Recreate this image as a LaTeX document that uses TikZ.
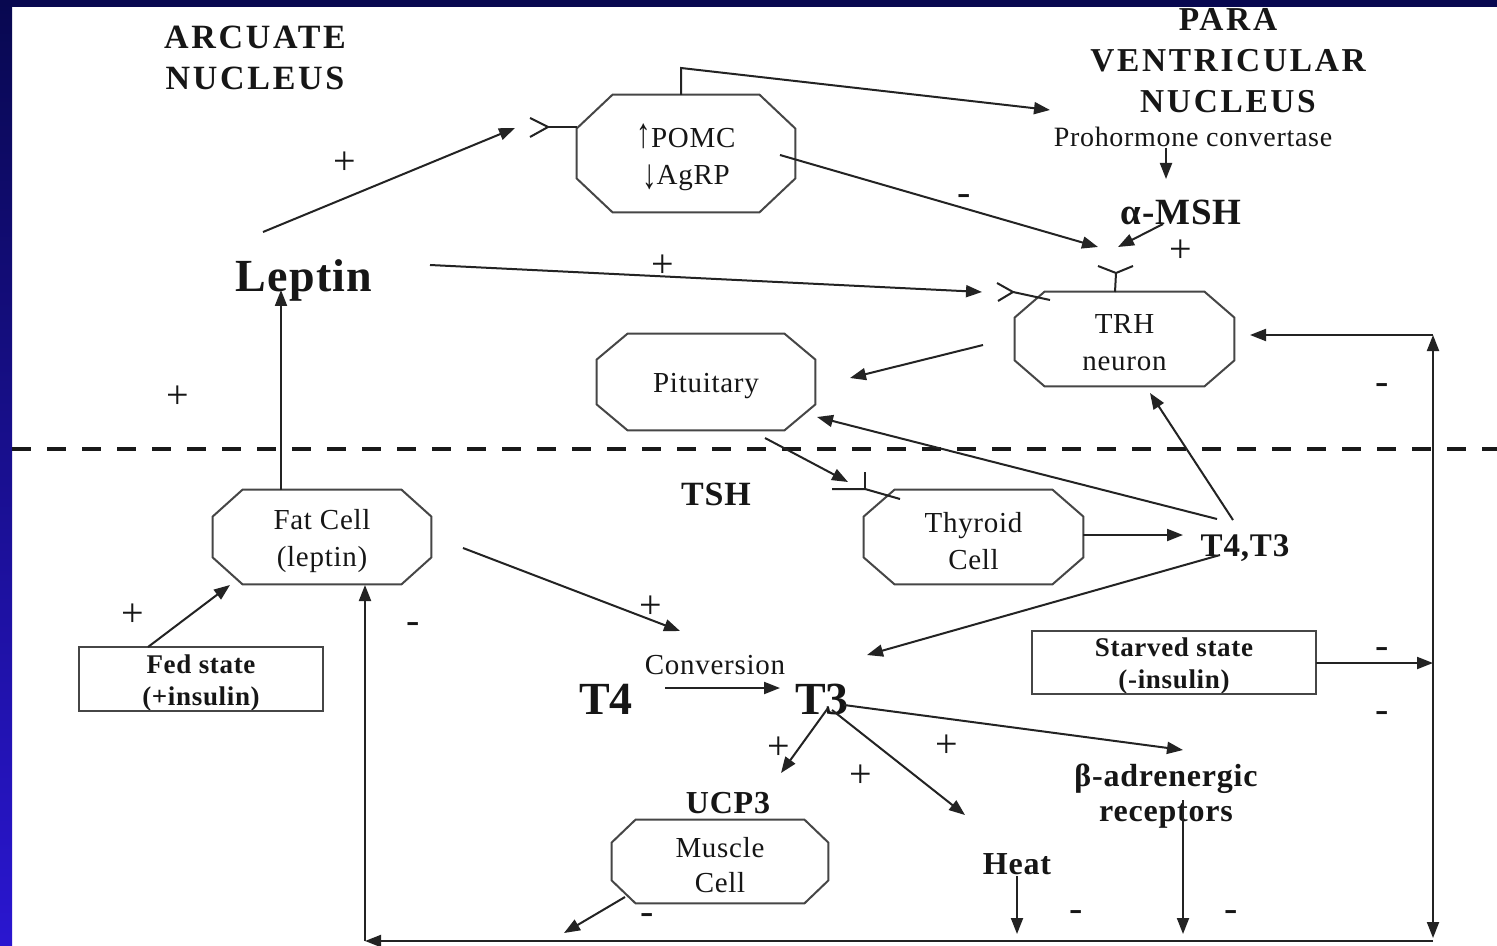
\documentclass[tikz,border=0pt]{standalone}
\usepackage{fontspec}
\usepackage{graphicx}
\setmainfont{Liberation Serif}
\newfontfamily\tfam{Liberation Serif}[LetterSpace=2.5]
\newfontfamily\hfam{Liberation Serif}[LetterSpace=8]
\usetikzlibrary{arrows.meta,calc}
\definecolor{navy}{RGB}{8,8,80}
\definecolor{vio}{RGB}{42,22,208}
\definecolor{midb}{RGB}{18,16,140}
\definecolor{ln}{RGB}{35,35,35}
\definecolor{bx}{RGB}{70,70,70}
\definecolor{txt}{RGB}{22,22,22}
% octagon drawn round a node, raised 2pt above the node so text sits lower
\newcommand\octo[3]{%
  \draw[boxline] ($(#1.north west)+(#2,2pt)$) -- ($(#1.north east)+(-#2,2pt)$) -- ($(#1.north east)+(0pt,2pt)-(0pt,#3)$) -- ($(#1.south east)+(0pt,2pt)+(0pt,#3)$) -- ($(#1.south east)+(-#2,2pt)$) -- ($(#1.south west)+(#2,2pt)$) -- ($(#1.south west)+(0pt,2pt)+(0pt,#3)$) -- ($(#1.north west)+(0pt,2pt)-(0pt,#3)$) -- cycle;}
\newcommand\rbox[1]{%
  \draw[boxline] ($(#1.north west)+(0pt,2pt)$) rectangle ($(#1.south east)+(0pt,2pt)$);}
\newcommand\uparr{\scalebox{1}[1.45]{↑}}
\newcommand\dnarr{\raisebox{-0.25ex}{\scalebox{1}[1.45]{↓}}}
\begin{document}
\begin{tikzpicture}[x=0.5pt,y=-0.5pt,
  conn/.style={draw=ln, line width=1pt},
  arr/.style={conn, -{Triangle[length=8pt,width=6pt]}},
  boxline/.style={draw=bx, line width=1pt},
  lbl/.style={inner sep=0pt, text=txt, align=center},
  reg/.style={lbl, font=\tfam\fontsize{14.5}{18.5}\selectfont},
  bld/.style={lbl, font=\tfam\bfseries\fontsize{16}{17.5}\selectfont},
  sbld/.style={lbl, font=\tfam\bfseries\fontsize{13.5}{16}\selectfont},
  head/.style={lbl, font=\hfam\bfseries\fontsize{17}{20.5}\selectfont},
  big/.style={lbl, font=\bfseries\fontsize{23}{24}\selectfont},
  sgn/.style={lbl, font=\fontsize{20}{20}\selectfont},
  octnode/.style 2 args={reg, minimum width=#1, minimum height=#2},
]
\useasboundingbox (0,0) rectangle (1497,946);
% background
\fill[white] (0,0) rectangle (1497,946);
\shade[top color=navy, middle color=midb, bottom color=vio] (0,0) rectangle (12,946);

% dashed separator
\coordinate (dl) at (12,449);
\coordinate (dr) at (1497,449);
\draw[line width=2pt, dash pattern=on 9.5pt off 8pt, draw=black!90] (dl) -- (dr);

% headings and labels
\node[head] (arc) at (255,57.5) {ARCUATE\\NUCLEUS};
\node[head, font=\hfam\bfseries\fontsize{16.7}{20.5}\selectfont] (pvn) at (1228,61) {PARA\\VENTRICULAR\\NUCLEUS};
\node[reg, font=\tfam\fontsize{14}{16}\selectfont] (proh) at (1193,137) {Prohormone convertase};
\node[lbl, font=\tfam\bfseries\fontsize{18.5}{20}\selectfont] (amsh) at (1181,212) {α-MSH};
\node[lbl, font=\tfam\bfseries\fontsize{23}{25}\selectfont] (leptin) at (304,280) {Leptin};
\node[lbl, font=\tfam\bfseries\fontsize{17}{18}\selectfont] (tsh) at (716,494) {TSH};
\node[lbl, font=\tfam\bfseries\fontsize{16.5}{18}\selectfont] (t4t3) at (1245,548) {T4,T3};
\node[reg] (conv) at (715,665) {Conversion};
\node[big] (t4) at (606,699) {T4};
\node[big] (t3) at (822,699) {T3};
\node[bld] (ucp) at (728,803) {UCP3};
\node[bld] (beta) at (1166,796) {β-adrenergic\\receptors};
\node[bld] (heat) at (1017,864) {Heat};

% octagon boxes (text centre 4px below box centre)
\node[octnode={109pt}{58.5pt}] (pomc) at (686,157.5) {\uparr POMC\\\dnarr AgRP};
\octo{pomc}{18pt}{17pt}
\node[octnode={109.5pt}{47pt}] (trh) at (1124.5,343) {TRH\\neuron};
\octo{trh}{15pt}{13pt}
\node[octnode={109pt}{48pt}] (pit) at (706,386) {Pituitary};
\octo{pit}{15.5pt}{13pt}
\node[octnode={109.5pt}{47pt}] (thy) at (973.5,541) {Thyroid\\Cell};
\octo{thy}{15.5pt}{13.5pt}
\node[octnode={109pt}{47pt}] (fat) at (322,541) {Fat Cell\\(leptin)};
\octo{fat}{15pt}{13.5pt}
\node[octnode={108pt}{41.5pt}, font=\tfam\fontsize{14.5}{17.5}\selectfont] (musc) at (720,865.5) {Muscle\\Cell};
\octo{musc}{12pt}{11.5pt}

% rectangular boxes
\node[sbld, minimum width=122pt, minimum height=32pt] (fed) at (201,683) {Fed state\\(+insulin)};
\rbox{fed}
\node[sbld, minimum width=142pt, minimum height=31.5pt] (starv) at (1174,666.5) {Starved state\\(-insulin)};
\rbox{starv}

% coordinates for free connector ends
\coordinate (lepA) at (263,232);
\coordinate (pomcTip) at (515,128);
\coordinate (pomcR) at (548,127);
\coordinate (pomcL) at (577,127);
\coordinate (pomcRa) at (530,118);
\coordinate (pomcRb) at (530,137);
\coordinate (pomcTop) at (681,95);
\coordinate (pomcUp) at (681,68);
\coordinate (pvnTip) at (1050,110);
\coordinate (pomcOut) at (780,155);
\coordinate (trhTipA) at (1098,247);
\coordinate (prohOut) at (1166,148);
\coordinate (amshIn) at (1166,179);
\coordinate (amshOut) at (1163,224);
\coordinate (trhTipB) at (1118,247);
\coordinate (trhRtop) at (1115,292);
\coordinate (trhRv) at (1116,273);
\coordinate (trhRa) at (1098,266);
\coordinate (trhRb) at (1133,266);
\coordinate (lepB) at (430,265);
\coordinate (trhTipC) at (982,292);
\coordinate (trhLv) at (1013,292);
\coordinate (trhLa) at (997,283);
\coordinate (trhLb) at (998,301);
\coordinate (trhLs) at (1050,300);
\coordinate (trhOut) at (983,345);
\coordinate (pitTipA) at (850,378);
\coordinate (ttA) at (1217,519);
\coordinate (pitTipB) at (817,417);
\coordinate (ttB) at (1233,520);
\coordinate (trhTipD) at (1150,393);
\coordinate (rtop) at (1433,335);
\coordinate (rbot) at (1433,938);
\coordinate (rcorner) at (1433,941);
\coordinate (lcorner) at (365,941);
\coordinate (fatBot) at (365,585);
\coordinate (trhIn) at (1250,335);
\coordinate (starvOut) at (1316,663);
\coordinate (starvTip) at (1433,663);
\coordinate (pitOut) at (765,438);
\coordinate (tshTip) at (848,482);
\coordinate (tshH) at (832,489);
\coordinate (tshV) at (865,489);
\coordinate (tshVt) at (865,472);
\coordinate (tshS) at (900,499);
\coordinate (thyOut) at (1083,535);
\coordinate (ttTip) at (1183,535);
\coordinate (ttC) at (1220,555);
\coordinate (convTipA) at (867,655);
\coordinate (fatTop) at (281,490);
\coordinate (lepTip) at (281,290);
\coordinate (fedOut) at (148,647);
\coordinate (fatTip) at (230,585);
\coordinate (fatOut) at (463,548);
\coordinate (convTipB) at (680,631);
\coordinate (t4Out) at (665,688);
\coordinate (t3In) at (780,688);
\coordinate (t3A) at (844,705);
\coordinate (betaTip) at (1183,750);
\coordinate (t3B) at (832,710);
\coordinate (heatTip) at (965,815);
\coordinate (t3C) at (828,708);
\coordinate (ucpTip) at (781,773);
\coordinate (muscOut) at (625,897);
\coordinate (muscTip) at (564,933);
\coordinate (heatOut) at (1017,876);
\coordinate (heatDn) at (1017,934);
\coordinate (betaOut) at (1183,800);
\coordinate (betaDn) at (1183,934);

% connectors
\draw[arr] (lepA) -- (pomcTip);
\draw[conn] (pomcL) -- (pomcR);
\draw[conn] (pomcRa) -- (pomcR) -- (pomcRb);
\draw[arr] (pomcTop) -- (pomcUp) -- (pvnTip);
\draw[arr] (pomcOut) -- (trhTipA);
\draw[arr] (prohOut) -- (amshIn);
\draw[arr] (amshOut) -- (trhTipB);
\draw[conn] (trhRtop) -- (trhRv);
\draw[conn] (trhRa) -- (trhRv) -- (trhRb);
\draw[arr] (lepB) -- (trhTipC);
\draw[conn] (trhLa) -- (trhLv) -- (trhLb);
\draw[conn] (trhLv) -- (trhLs);
\draw[arr] (trhOut) -- (pitTipA);
\draw[arr] (ttA) -- (pitTipB);
\draw[arr] (ttB) -- (trhTipD);
\draw[arr] (rtop) -- (trhIn);
\draw[conn, {Triangle[length=8pt,width=6pt]}-{Triangle[length=8pt,width=6pt]}] (rtop) -- (rbot);
\draw[arr] (rcorner) -- (lcorner);
\draw[arr] (lcorner) -- (fatBot);
\draw[arr] (starvOut) -- (starvTip);
\draw[arr] (pitOut) -- (tshTip);
\draw[conn] (tshH) -- (tshV) -- (tshS);
\draw[conn] (tshVt) -- (tshV);
\draw[arr] (thyOut) -- (ttTip);
\draw[arr] (ttC) -- (convTipA);
\draw[arr] (fatTop) -- (lepTip);
\draw[arr] (fedOut) -- (fatTip);
\draw[arr] (fatOut) -- (convTipB);
\draw[arr] (t4Out) -- (t3In);
\draw[arr] (t3A) -- (betaTip);
\draw[arr] (t3B) -- (heatTip);
\draw[arr] (t3C) -- (ucpTip);
\draw[arr] (muscOut) -- (muscTip);
\draw[arr] (heatOut) -- (heatDn);
\draw[arr] (betaOut) -- (betaDn);

% signs
\node[sgn] (p1) at (345,163) {+};
\node[sgn] (p2) at (663,266) {+};
\node[sgn] (p3) at (178,397) {+};
\node[sgn] (p4) at (1181,251) {+};
\node[sgn] (p5) at (133,615) {+};
\node[sgn] (p6) at (651,607) {+};
\node[sgn] (p7) at (779,748) {+};
\node[sgn] (p8) at (947,746) {+};
\node[sgn] (p9) at (861,776) {+};
\node[sgn] (m1) at (964,200) {-};
\node[sgn] (m2) at (413,628) {-};
\node[sgn] (m3) at (1382,389) {-};
\node[sgn] (m4) at (1382,653) {-};
\node[sgn] (m5) at (1382,717) {-};
\node[sgn] (m6) at (647,919) {-};
\node[sgn] (m7) at (1076,916) {-};
\node[sgn] (m8) at (1231,916) {-};

% top bar
\fill[navy] (0,0) rectangle (1497,7);
\end{tikzpicture}
\end{document}
